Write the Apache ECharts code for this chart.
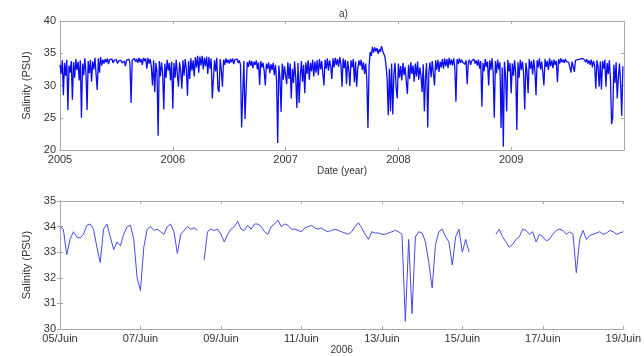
<!DOCTYPE html>
<html>
<head>
<meta charset="utf-8">
<script src="https://cdn.jsdelivr.net/npm/echarts@6/dist/echarts.min.js"></script>
<style>
    html, body { margin: 0; padding: 0; background: #fff; }
    #chart { width: 644px; height: 356px; }
</style>
</head>
<body>
<div id="chart"></div>
<script>
// a) salinity 2005-2009, one value every 0.01 year
var topStart = 2005;
var topStep = 0.01;
var sal2005 = [
    33.2, 31.8, 33.9, 28.5, 33.5, 31.5, 34.0, 26.2, 33.1, 32.0,
    33.8, 27.8, 33.6, 31.2, 34.1, 32.4, 33.7, 30.8, 33.9, 25.0,
    33.4, 31.6, 34.2, 32.1, 26.2, 33.8, 31.9, 34.0, 30.6, 33.7,
    32.5, 34.3, 31.7, 29.3, 34.2, 32.0, 34.4, 33.1, 34.0, 33.4,
    34.1, 33.6, 34.2, 33.3, 34.0, 33.7, 34.1, 33.5, 33.9, 33.6,
    34.0, 33.4, 33.8, 33.6, 33.9, 33.5, 33.7, 33.8, 33.0, 33.9,
    33.6, 34.1, 33.5, 27.3, 33.9, 33.6, 34.2, 33.7, 34.1, 33.5,
    34.3, 33.6, 34.1, 33.2, 34.3, 33.8, 34.2, 32.6, 34.3, 33.4,
    34.1, 32.8, 30.0, 33.9, 29.0, 33.5, 32.1, 22.2, 33.8, 31.4,
    33.6, 32.0, 26.3, 33.4, 31.2, 34.0, 32.3, 33.5, 30.8, 33.7
];
var sal2006 = [
    26.4, 33.5, 31.2, 34.0, 31.8, 29.8, 33.6, 32.2, 29.5, 33.9,
    31.5, 34.1, 32.6, 28.4, 33.8, 31.0, 34.2, 32.3, 33.9, 31.4,
    34.4, 32.8, 34.6, 32.0, 34.5, 33.1, 34.6, 32.5, 34.3, 33.0,
    34.5, 31.8, 34.4, 32.6, 34.2, 28.0, 27.8, 33.9, 32.2, 34.3,
    29.5, 29.0, 34.1, 32.4, 29.8, 34.0, 33.2, 34.2, 33.5, 34.0,
    33.4, 34.1, 33.6, 34.2, 33.3, 34.0, 33.7, 34.1, 33.5, 33.9,
    33.2, 23.5, 23.8, 33.8, 24.8, 25.0, 33.6, 32.9, 33.9, 33.1,
    33.8, 32.7, 33.7, 33.2, 33.9, 32.5, 33.6, 30.1, 33.8, 32.8,
    33.5, 32.3, 30.0, 33.4, 32.6, 33.6, 31.9, 33.3, 32.4, 33.5,
    31.6, 33.2, 30.8, 21.1, 33.1, 31.2, 25.9, 33.4, 30.9, 33.0
];
var sal2007 = [
    32.8, 30.2, 33.6, 31.0, 33.4, 28.0, 32.6, 30.4, 33.7, 31.2,
    26.5, 33.5, 27.3, 31.5, 33.8, 30.6, 33.2, 28.8, 33.6, 31.8,
    33.9, 30.9, 33.5, 32.2, 34.0, 31.4, 33.7, 32.0, 33.9, 31.6,
    34.1, 32.5, 33.8, 31.9, 30.0, 34.0, 32.6, 34.2, 32.3, 33.9,
    33.0, 31.0, 34.2, 32.8, 34.3, 33.2, 34.1, 32.9, 34.4, 33.4,
    29.8, 34.2, 32.7, 34.0, 30.2, 33.8, 32.5, 29.9, 33.9, 32.8,
    34.1, 30.5, 33.7, 29.8, 32.6, 33.9, 33.1, 34.0, 32.4, 33.6,
    31.8, 33.4, 30.9, 23.4, 33.0, 35.2, 34.6, 36.0, 35.1, 35.9,
    35.3, 35.8, 34.9, 35.6, 35.2, 36.1, 35.4, 35.7, 34.5, 33.2,
    31.0, 25.4, 32.6, 26.0, 33.4, 25.5, 31.8, 33.5, 29.6, 28.0
];
var sal2008 = [
    33.4, 31.2, 33.0, 30.8, 33.5, 31.6, 32.9, 30.5, 28.7, 33.2,
    31.0, 33.6, 31.8, 33.1, 30.6, 33.4, 31.4, 33.7, 30.9, 32.8,
    31.5, 29.0, 33.3, 26.0, 31.2, 33.5, 23.5, 32.0, 33.6, 31.3,
    33.8, 31.9, 30.0, 33.9, 32.4, 34.0, 32.1, 33.7, 32.8, 34.1,
    32.6, 34.2, 33.0, 34.1, 32.7, 34.3, 33.2, 34.0, 33.1, 34.2,
    32.9, 27.5, 34.1, 33.3, 34.2, 33.5, 34.0, 33.6, 33.8, 33.3,
    33.9, 30.2, 33.6, 34.0, 33.2, 33.8, 33.5, 34.1, 33.4, 33.9,
    33.1, 34.0, 32.6, 33.8, 26.7, 33.5, 32.2, 34.1, 32.9, 33.7,
    30.0, 33.9, 32.4, 34.2, 32.0, 25.0, 33.8, 31.9, 34.0, 32.5,
    33.6, 23.4, 32.8, 20.5, 33.7, 31.6, 26.0, 34.0, 32.2, 33.5
];
var sal2009 = [
    28.8, 33.4, 31.5, 33.9, 32.0, 23.1, 33.6, 31.2, 34.0, 32.4,
    33.7, 31.8, 26.3, 33.5, 32.1, 28.8, 34.1, 32.6, 33.8, 31.7,
    34.0, 32.3, 28.5, 33.9, 32.8, 34.2, 32.5, 33.7, 32.0, 30.0,
    34.1, 32.9, 33.8, 32.4, 34.2, 33.0, 33.9, 32.7, 34.0, 33.2,
    33.8, 30.5, 34.1, 33.4, 34.2, 33.6, 34.0, 33.5, 34.1, 33.7,
    33.9, 33.6, 33.8, 32.0, 33.7, 33.5, 32.1, 33.9, 33.6, 34.0,
    33.7, 34.1, 33.8, 34.2, 33.9, 34.0, 33.6, 34.1, 33.4, 33.9,
    33.2, 34.0, 32.8, 33.8, 33.1, 29.5, 33.9, 32.9, 29.8, 33.7,
    29.4, 33.8, 32.6, 34.0, 29.8, 33.5, 31.8, 33.9, 31.0, 24.0,
    25.0, 33.2, 30.4, 33.6, 28.0, 31.2, 33.4, 30.2, 25.3, 33.0
];

// b) 05/Juin - 19/Juin 2006, one value every 2 hours (null = no data)
var juinPerDay = 12;
var juinVals = [
    34.0, 33.9, 32.9, 33.5, 33.8, 33.6, 33.55, 33.7, 34.05, 34.1, 33.9, 33.2,
    32.6, 33.9, 34.1, 33.6, 33.1, 33.4, 33.25, 33.7, 34.0, 34.05, 33.5, 32.0,
    31.5, 33.2, 33.9, 34.0, 33.85, 33.9, 33.8, 33.7, 34.0, 34.1, 33.8, 32.95,
    33.7, 33.85, 34.0, 33.9, 33.95, 33.85, null, 32.7, 33.8, 33.9, 33.85, 33.9,
    33.7, 33.4, 33.7, 33.9, 34.0, 34.2, 33.9, 33.85, 34.05, 33.9, 34.1, 34.1,
    34.0, 33.8, 33.7, 34.0, 34.1, 34.25, 34.0, 34.1, 34.05, 33.9, 33.9, 33.85,
    33.8, 33.95, 34.0, 34.05, 33.95, 33.9, 33.95, 33.85, 33.8, 33.85, 33.9, 33.85,
    33.8, 33.75, 33.7, 33.8, 34.0, 34.15, 33.95, 33.7, 33.5, 33.8, 33.75, 33.75,
    33.7, 33.7, 33.75, 33.8, 33.85, 33.8, 33.7, 30.3, 33.5, 30.6, 33.6, 33.8,
    33.75, 33.4, 32.6, 31.6, 33.3, 33.8, 33.9, 33.6, 33.4, 32.5, 33.6, 33.9,
    33.0, 33.5, 33.0, null, null, null, null, null, null, null, 33.7, 33.9,
    33.6, 33.4, 33.2, 33.3, 33.5, 33.6, 33.9, 33.85, 33.7, 33.8, 33.4, 33.7,
    33.6, 33.45, 33.5, 33.7, 33.85, 33.9, 33.85, 33.7, 33.8, 33.7, 32.2, 33.5,
    33.85, 33.5, 33.65, 33.7, 33.75, 33.8, 33.7, 33.75, 33.85, 33.8, 33.7, 33.75,
    33.8
];

var topVals = sal2005.concat(sal2006, sal2007, sal2008, sal2009);
var topData = topVals.map(function (v, i) {
    return [topStart + i * topStep, v];
});
var juinData = juinVals.map(function (v, i) {
    return [i / juinPerDay, v === null ? '-' : v];
});

var fontFam = '"Liberation Sans", Arial, sans-serif';
var frame = '#a8a8a8';
var txt = '#333';

function boxAxis(extra) {
    var a = {
        axisLine: { show: true, lineStyle: { color: frame, width: 1 } },
        axisTick: { show: true, inside: true, length: 3, lineStyle: { color: frame } },
        splitLine: { show: false },
        axisLabel: { color: txt, fontSize: 11, fontFamily: fontFam, margin: 4 }
    };
    for (var k in extra) a[k] = extra[k];
    return a;
}
function mirror(extra) {
    var a = boxAxis(extra);
    a.axisLabel = { show: false };
    return a;
}

var dom = document.getElementById('chart');
var myChart = echarts.init(dom, null, { renderer: 'canvas' });
var option = {
    animation: false,
    backgroundColor: '#fff',
    title: {
        text: 'a)',
        left: 334,
        top: 4,
        textStyle: { fontSize: 10, fontWeight: 'normal', color: txt, fontFamily: fontFam }
    },
    grid: [
        { left: 60, right: 20, top: 21, height: 129 },
        { left: 60, right: 20, top: 201, height: 128 }
    ],
    xAxis: [
        boxAxis({
            type: 'value', gridIndex: 0, min: 2005, max: 2010, interval: 1,
            name: 'Date (year)', nameLocation: 'middle', nameGap: 13,
            nameTextStyle: { color: txt, fontSize: 10, fontFamily: fontFam },
            axisLabel: {
                color: txt, fontSize: 11, fontFamily: fontFam, margin: 4,
                formatter: function (v) { return v === 2010 ? '' : String(v); }
            }
        }),
        mirror({ type: 'value', gridIndex: 0, min: 2005, max: 2010, interval: 1, position: 'top' }),
        boxAxis({
            type: 'value', gridIndex: 1, min: 0, max: 14, interval: 2,
            name: '2006', nameLocation: 'middle', nameGap: 16,
            nameTextStyle: { color: txt, fontSize: 10, fontFamily: fontFam },
            axisLabel: {
                color: txt, fontSize: 11, fontFamily: fontFam, margin: 4,
                formatter: function (v) {
                    var d = 5 + v;
                    return (d < 10 ? '0' + d : d) + '/Juin';
                }
            }
        }),
        mirror({ type: 'value', gridIndex: 1, min: 0, max: 14, interval: 2, position: 'top' })
    ],
    yAxis: [
        boxAxis({
            type: 'value', gridIndex: 0, min: 20, max: 40, interval: 5,
            name: 'Salinity (PSU)', nameLocation: 'middle', nameGap: 24,
            nameTextStyle: { color: txt, fontSize: 11, fontFamily: fontFam }
        }),
        mirror({ type: 'value', gridIndex: 0, min: 20, max: 40, interval: 5, position: 'right' }),
        boxAxis({
            type: 'value', gridIndex: 1, min: 30, max: 35, interval: 1,
            name: 'Salinity (PSU)', nameLocation: 'middle', nameGap: 24,
            nameTextStyle: { color: txt, fontSize: 11, fontFamily: fontFam }
        }),
        mirror({ type: 'value', gridIndex: 1, min: 30, max: 35, interval: 1, position: 'right' })
    ],
    series: [
        {
            name: 'a',
            type: 'line',
            xAxisIndex: 0,
            yAxisIndex: 0,
            data: topData,
            showSymbol: false,
            sampling: 'none',
            lineStyle: { color: '#0c0cf0', width: 1.3 },
            silent: true
        },
        {
            name: 'b',
            type: 'line',
            xAxisIndex: 2,
            yAxisIndex: 2,
            data: juinData,
            showSymbol: false,
            connectNulls: false,
            lineStyle: { color: '#4a4ae0', width: 1 },
            silent: true
        }
    ]
};

if (option && typeof option === "object") {
    myChart.setOption(option, true);
    window.onresize = myChart.resize;
}
</script>
</body>
</html>
